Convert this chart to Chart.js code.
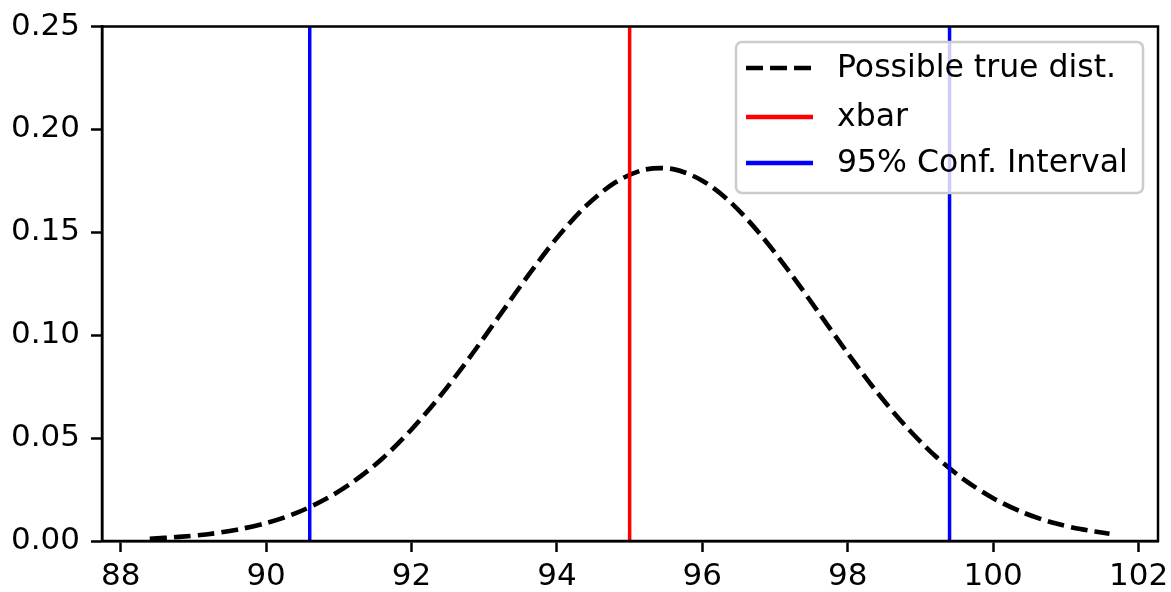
<!DOCTYPE html>
<html>
<head>
<meta charset="utf-8">
<script src="https://cdn.jsdelivr.net/npm/chart.js@4"></script>
<style>
html, body { margin: 0; padding: 0; background: #fff; }
</style>
</head>
<body>
<canvas id="myChart" width="1171" height="592"></canvas>
<script>
// values
const curveX = [88.4, 88.8, 89.2, 89.6, 90.0, 90.4, 90.8, 91.2, 91.6, 92.0, 92.4, 92.8,
  93.2, 93.6, 94.0, 94.4, 94.8, 95.2, 95.6, 96.0, 96.4, 96.8, 97.2, 97.6, 98.0, 98.4,
  98.8, 99.2, 99.6, 100.0, 100.4, 100.8, 101.2, 101.6];
const curveY = [0.0011, 0.0020, 0.0033, 0.0055, 0.0087, 0.0134, 0.0200, 0.0288, 0.0401, 0.0542,
  0.0707, 0.0892, 0.1090, 0.1288, 0.1473, 0.1628, 0.1742, 0.1804, 0.1807, 0.1751, 0.1642,
  0.1489, 0.1307, 0.1110, 0.0912, 0.0724, 0.0557, 0.0414, 0.0298, 0.0208, 0.0140, 0.0091,
  0.0058, 0.0035];
const xbar = 95.0;
const ciBounds = [90.6, 99.4];
const xTicks = [88, 90, 92, 94, 96, 98, 100, 102];
const yTicks = [0, 0.05, 0.10, 0.15, 0.20, 0.25];
const seriesLabels = ["Possible true dist.", "xbar", "95% Conf. Interval"];

const FONT = "'DejaVu Sans', sans-serif";

function vline(x) {
  return [{ x: x, y: yTicks[0] }, { x: x, y: yTicks[yTicks.length - 1] }];
}

// matplotlib style frame + legend box
const mplFrame = {
  id: 'mplFrame',
  afterDraw(chart) {
    const ctx = chart.ctx;
    const a = chart.chartArea;
    ctx.save();
    ctx.strokeStyle = '#000';
    ctx.lineWidth = 2.5;
    ctx.strokeRect(a.left, a.top, a.right - a.left, a.bottom - a.top);

    const w = 407, h = 151;
    const bx = a.right - 15 - w, by = a.top + 15.5;
    ctx.beginPath();
    ctx.roundRect(bx, by, w, h, 6);
    ctx.fillStyle = 'rgba(255,255,255,0.8)';
    ctx.fill();
    ctx.lineWidth = 2.5;
    ctx.strokeStyle = '#cccccc';
    ctx.stroke();

    const items = [
      { label: seriesLabels[0], color: '#000', dash: [17, 7] },
      { label: seriesLabels[1], color: '#ff0000', dash: [] },
      { label: seriesLabels[2], color: '#0000ff', dash: [] }
    ];
    const rowY = [26, 75, 121];
    ctx.font = '31.5px ' + FONT;
    ctx.textBaseline = 'middle';
    ctx.textAlign = 'left';
    items.forEach((it, i) => {
      const y = by + rowY[i];
      ctx.beginPath();
      ctx.setLineDash(it.dash);
      ctx.lineWidth = 4.6;
      ctx.strokeStyle = it.color;
      ctx.moveTo(bx + 10, y);
      ctx.lineTo(bx + 77, y);
      ctx.stroke();
      ctx.setLineDash([]);
      ctx.fillStyle = '#000';
      ctx.fillText(it.label, bx + 101, y + 1);
    });
    ctx.restore();
  }
};

new Chart("myChart", {
  type: "line",
  data: {
    datasets: [
      {
        label: seriesLabels[0],
        data: curveX.map((x, i) => ({ x: x, y: curveY[i] })),
        borderColor: '#000',
        borderWidth: 4.6,
        borderDash: [17, 7],
        pointRadius: 0,
        tension: 0.3,
        order: 3
      },
      {
        label: seriesLabels[1],
        data: vline(xbar),
        borderColor: '#ff0000',
        borderWidth: 3.5,
        pointRadius: 0,
        order: 1
      },
      {
        label: seriesLabels[2],
        data: vline(ciBounds[0]),
        borderColor: '#0000ff',
        borderWidth: 3.5,
        pointRadius: 0,
        order: 1
      },
      {
        label: '',
        data: vline(ciBounds[1]),
        borderColor: '#0000ff',
        borderWidth: 3.5,
        pointRadius: 0,
        order: 1
      }
    ]
  },
  options: {
    responsive: false,
    animation: false,
    layout: { padding: { top: 26.5, right: 13, left: 0, bottom: 0 } },
    plugins: {
      legend: { display: false },
      tooltip: { enabled: false }
    },
    scales: {
      x: {
        type: 'linear',
        min: 87.743,
        max: 102.267,
        afterBuildTicks: (s) => { s.ticks = xTicks.map(v => ({ value: v })); },
        afterFit: (s) => { s.height = 51; s.paddingLeft = 0; s.paddingRight = 0; },
        grid: { drawOnChartArea: false, drawTicks: true, tickLength: 11, tickColor: '#000', tickWidth: 2.5 },
        border: { display: true, color: '#000', width: 2.5 },
        ticks: {
          color: '#000',
          font: { family: FONT, size: 31 },
          padding: 6,
          maxRotation: 0,
          autoSkip: false,
          callback: (v) => String(v)
        }
      },
      y: {
        min: 0,
        max: 0.25,
        afterBuildTicks: (s) => { s.ticks = yTicks.map(v => ({ value: v })); },
        afterFit: (s) => { s.width = 102; s.paddingTop = 0; s.paddingBottom = 0; },
        grid: { drawOnChartArea: false, drawTicks: true, tickLength: 11, tickColor: '#000', tickWidth: 2.5 },
        border: { display: true, color: '#000', width: 2.5 },
        ticks: {
          color: '#000',
          font: { family: FONT, size: 31 },
          padding: 11,
          autoSkip: false,
          callback: (v) => Number(v).toFixed(2)
        }
      }
    }
  },
  plugins: [mplFrame]
});
</script>
</body>
</html>
